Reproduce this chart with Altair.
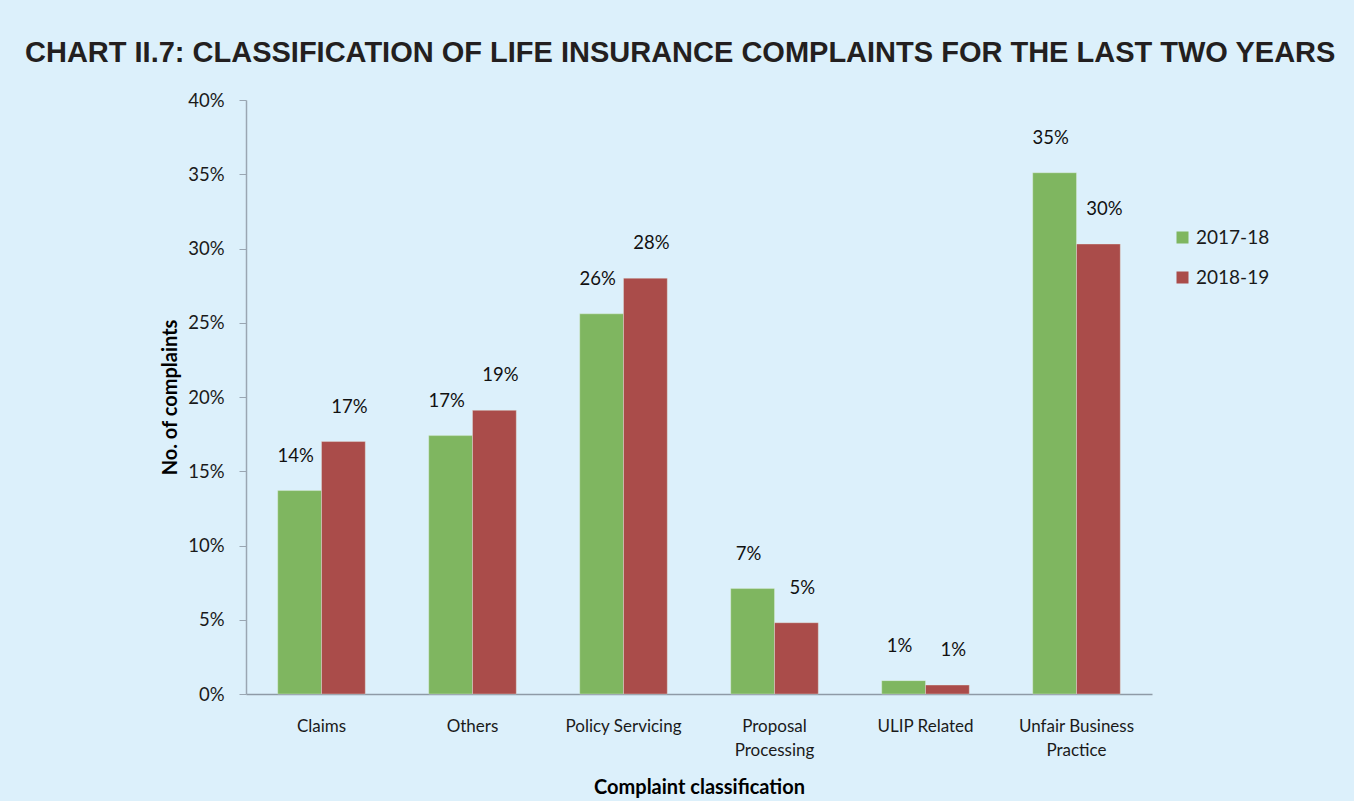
import altair as alt
import pandas as pd

# Share of life-insurance complaints by classification
categories = [
    "Claims",
    "Others",
    "Policy Servicing",
    "Proposal Processing",
    "ULIP Related",
    "Unfair Business Practice",
]
share_2017_18 = [0.137, 0.174, 0.256, 0.071, 0.009, 0.351]
share_2018_19 = [0.170, 0.191, 0.280, 0.048, 0.006, 0.303]
years = ["2017-18", "2018-19"]
colors = ["#7FB660", "#AA4C4A"]
y_ticks = [0, 0.05, 0.10, 0.15, 0.20, 0.25, 0.30, 0.35, 0.40]

rows = []
for cat, a, b in zip(categories, share_2017_18, share_2018_19):
    rows.append({"category": cat, "year": years[0], "share": a})
    rows.append({"category": cat, "year": years[1], "share": b})
df = pd.DataFrame(rows)

BG = "#DCF0FB"
LABEL_FONT = "Lato"

label_expr = (
    "datum.value == 'Proposal Processing' ? ['Proposal', 'Processing'] : "
    "datum.value == 'Unfair Business Practice' ? ['Unfair Business', 'Practice'] : datum.value"
)

x_enc = alt.X(
    "category:N",
    sort=categories,
    scale=alt.Scale(paddingInner=0.42, paddingOuter=0.21),
    axis=alt.Axis(
        title="Complaint classification",
        titleFont=LABEL_FONT,
        titleFontSize=20,
        titleFontWeight="bold",
        titleColor="#000000",
        titleY=93,
        titleBaseline="middle",
        labelExpr=label_expr,
        labelAngle=0,
        labelFont=LABEL_FONT,
        labelFontSize=17,
        labelColor="#1a1a1a",
        labelLineHeight=24,
        labelPadding=24,
        labelBaseline="top",
        ticks=False,
        domainColor="#8E9AA6",
        domainWidth=1.5,
    ),
)

xoff = alt.XOffset("year:N", sort=years, scale=alt.Scale(paddingInner=0, paddingOuter=0))

y_enc = alt.Y(
    "share:Q",
    scale=alt.Scale(domain=[0, 0.40], nice=False),
    axis=alt.Axis(
        title="No. of complaints",
        titleFont=LABEL_FONT,
        titleFontSize=20,
        titleFontWeight="bold",
        titleColor="#000000",
        titleX=-76,
        titleY=297,
        titleAngle=270,
        titleAlign="center",
        titleBaseline="middle",
        values=y_ticks,
        format=".0%",
        labelFont=LABEL_FONT,
        labelFontSize=18.5,
        labelColor="#1a1a1a",
        labelPadding=15,
        tickSize=7,
        tickColor="#9AA6B2",
        domainColor="#9AA6B2",
        domainWidth=1.5,
        grid=False,
    ),
)

color_enc = alt.Color(
    "year:N",
    sort=years,
    scale=alt.Scale(domain=years, range=colors),
    legend=alt.Legend(
        title=None,
        orient="none",
        legendX=927,
        legendY=128,
        symbolType="square",
        symbolSize=144,
        symbolStrokeWidth=0,
        labelFont=LABEL_FONT,
        labelFontSize=19,
        labelColor="#1a1a1a",
        rowPadding=20,
        labelOffset=4,
    ),
)

bars = alt.Chart(df).mark_bar(stroke="#E8F4EC", strokeWidth=0.6, strokeOpacity=0.6).encode(
    x=x_enc, xOffset=xoff, y=y_enc, color=color_enc
)

def value_labels(year, dx):
    return (
        alt.Chart(df)
        .transform_filter(alt.datum.year == year)
        .mark_text(
            font=LABEL_FONT,
            fontSize=18.5,
            color="#111111",
            baseline="middle",
            dy=-35,
            dx=dx,
        )
        .encode(
            x=alt.X("category:N", sort=categories),
            xOffset=alt.XOffset("year:N", sort=years),
            y="share:Q",
            text=alt.Text("share:Q", format=".0%"),
        )
    )

chart = (
    alt.layer(bars, value_labels(years[0], -4), value_labels(years[1], 6))
    .properties(
        width=906,
        height=594,
        background=BG,
        padding={"left": 246, "top": 100, "right": 202, "bottom": 107},
        autosize=alt.AutoSizeParams(type="none"),
        title=alt.TitleParams(
            "CHART II.7: CLASSIFICATION OF LIFE INSURANCE COMPLAINTS FOR THE LAST TWO YEARS",
            anchor="start",
            frame="group",
            dx=-221,
            offset=23,
            font="Liberation Sans",
            fontSize=29,
            fontWeight="bold",
            color="#231F20",
        ),
    )
    .configure_view(stroke=None)
)

chart.save("out.html", embed_options={"renderer": "svg", "actions": False})
